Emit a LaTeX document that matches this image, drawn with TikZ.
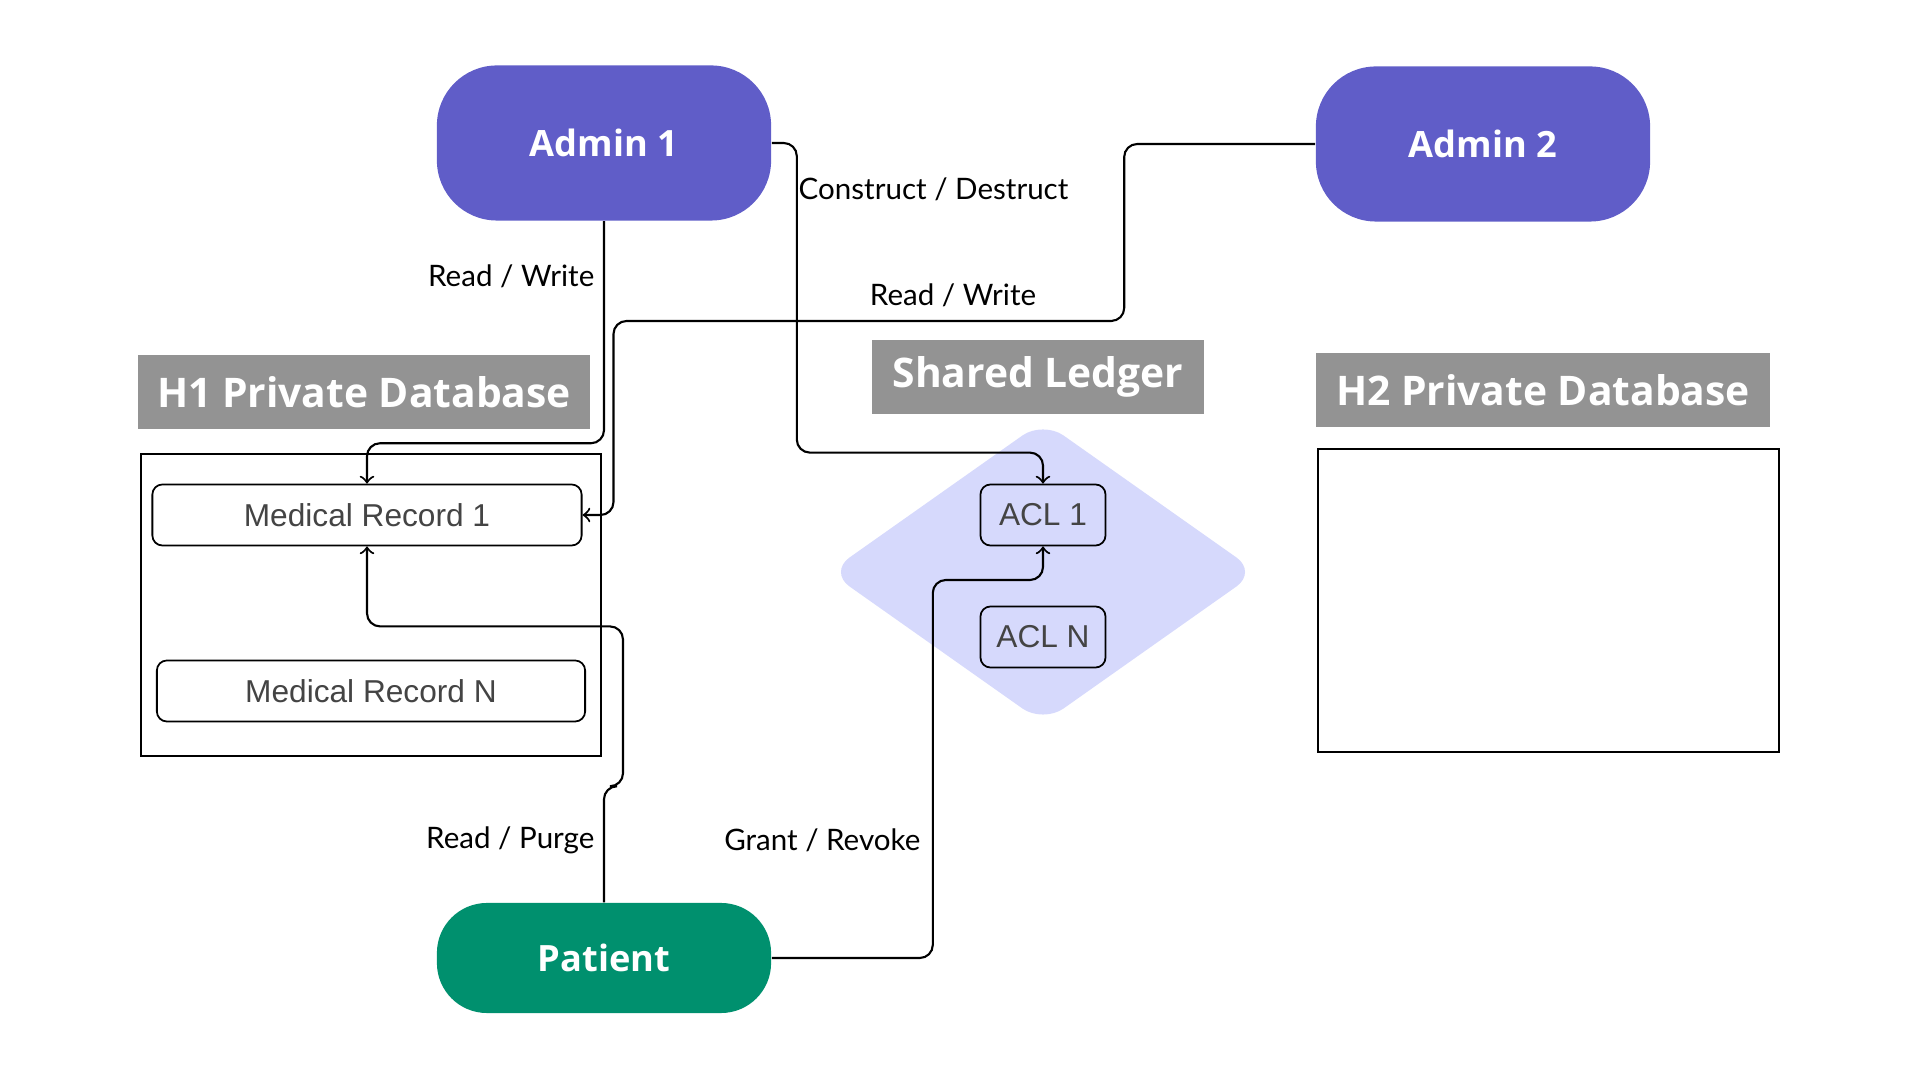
\documentclass[tikz,border=0pt]{standalone}
\usepackage{fontspec}
\setmainfont{Liberation Sans}
\newfontfamily\headfont{Open Sans}
\newfontfamily\labelfont{Lato}
\usepackage{tikz}
\usetikzlibrary{calc}
\usetikzlibrary{arrows}
\definecolor{adminblue}{HTML}{605DC8}
\definecolor{patientgreen}{HTML}{00906E}
\definecolor{headgray}{HTML}{939393}
\definecolor{ledgerfill}{HTML}{D6D9FC}
\definecolor{recordtext}{HTML}{444444}
\tikzset{
	actor/.style={fill=adminblue, text=white, font=\headfont\bfseries\fontsize{10.3}{12}\selectfont, minimum width=3.34cm, minimum height=1.55cm, rounded corners=0.6cm, inner sep=0pt},
	header/.style={fill=headgray, text=white, font=\headfont\bfseries\fontsize{11.6}{13}\selectfont, minimum height=0.74cm, inner sep=0pt},
	record/.style={draw, line width=0.5pt, rounded corners=0.1cm, text=recordtext, font=\fontsize{9}{11}\selectfont, minimum height=0.61cm, inner sep=0pt},
	edgetext/.style={font=\labelfont\fontsize{8.4}{10}\selectfont, inner sep=0pt},
	link/.style={line width=0.6pt, rounded corners=0.13cm},
}

\begin{document}
\begin{tikzpicture}[x=0.01cm, y=-0.01cm, >=to]
	\useasboundingbox (0,0) rectangle (1920,1080);
	% ledger area
	\fill[ledgerfill, rounded corners=0.25cm] (1043,421) -- (1257,572) -- (1043,723) -- (829,572) -- cycle;
	\draw[line width=0.4pt] (141,454) rectangle (601,756);
	\draw[line width=0.4pt] (1318,449) rectangle (1779,752);

	\node[actor] (admin1) at (604,143) {Admin 1};
	\node[actor] (admin2) at (1483,144) {Admin 2};
	\node[actor, fill=patientgreen, minimum height=1.1cm, rounded corners=0.5cm] (patient) at (604,958) {Patient};

	\node[header, minimum width=4.52cm] (h1db) at (364,392) {H1 Private Database};
	\node[header, minimum width=3.32cm] (ledger) at (1038,377) {Shared Ledger};
	\node[header, minimum width=4.53cm] (h2db) at (1543,390) {H2 Private Database};

	\node[record, minimum width=4.29cm] (mr1) at (367,515) {Medical Record 1};
	\node[record, minimum width=4.28cm] (mrn) at (371,691) {Medical Record N};
	\node[record, minimum width=1.25cm] (acl1) at (1043,515) {ACL 1};
	\node[record, minimum width=1.25cm] (acln) at (1043,637) {ACL N};

	\draw[link,->] (admin1.south) -- ++(0,222) -| (mr1.north);
	\draw[link,->] (admin2.west) -| ++(-191,177) -| ($(mr1.east)+(31,0)$) -- (mr1.east);
	\draw[link,->] (admin1.east) -- ++(25,0) |- ($(acl1.north)+(0,-31)$) -- (acl1.north);
	\draw[link,->] (patient.north) -- ++(0,-116) -- ++(19,0) |- ($(mr1.south)+(0,80)$) -- (mr1.south);
	\draw[link,->] (patient.east) -| ++(161,-378) -| (acl1.south);

	\node[edgetext, anchor=east] (rw1) at (595,276) {Read / Write};
	\node[edgetext] (rw2) at (953,295) {Read / Write};
	\node[edgetext, anchor=west] (cd) at (798,189) {Construct / Destruct};
	\node[edgetext, anchor=east] (rp) at (595,840) {Read / Purge};
	\node[edgetext, anchor=east] (gr) at (921,840) {Grant / Revoke};
\end{tikzpicture}
\end{document}
